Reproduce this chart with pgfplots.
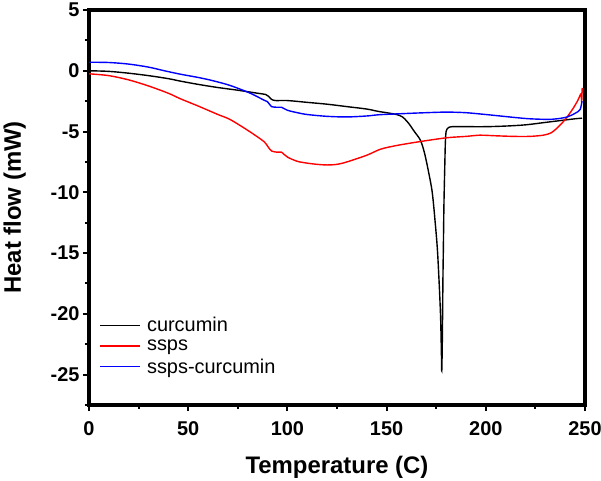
\documentclass[border=0pt]{standalone}
\usepackage{pgfplots}
\pgfplotsset{compat=1.18}
\usepackage{fontspec}
\setmainfont{Liberation Sans}
\begin{document}
\begin{tikzpicture}
\useasboundingbox (0,0) rectangle (601bp,481bp);
\begin{axis}[
  at={(89bp,76bp)}, anchor=south west,
  scale only axis, width=496bp, height=395bp,
  xmin=0, xmax=250, ymin=-27.5, ymax=5,
  xtick={0,50,...,250}, ytick={-25,-20,...,5},
  minor xtick={25,75,...,225}, minor ytick={-27.5,-22.5,...,2.5},
  tick pos=left, tick align=outside,
  major tick length=6bp, minor tick length=4bp,
  every tick/.style={line width=2bp, black},
  axis line style={line width=3.5bp},
  /pgf/number format/assume math mode=true,
  ticklabel style={font=\fontsize{20}{22}\selectfont\bfseries},
  xticklabel style={yshift=-7bp},
  xlabel={Temperature (C)}, ylabel={Heat flow (mW)},
  label style={font=\fontsize{24}{26}\selectfont\bfseries},
  xlabel style={yshift=-14bp},
  ylabel style={yshift=18bp},
  legend style={draw=none, fill=none, at={(0.015,0.232)}, anchor=north west,
    font=\fontsize{20}{22}\selectfont, row sep=2.5bp},
  legend cell align=left,
  legend image code/.code={\draw[#1,line width=1.5bp] (0bp,0bp) -- (40bp,0bp); \path (44bp,0bp);},
]
\addplot[black, line width=1.4bp, smooth] coordinates {
(0,0) (10,-0.05) (20,-0.2) (30,-0.4) (40,-0.65) (46,-0.85) (55,-1.12) (65,-1.38)
(75,-1.6) (85,-1.85) (89,-1.95) (90.5,-2.1) (92,-2.35) (94,-2.45) (100,-2.45)
(110,-2.6) (120,-2.75) (130,-2.95) (140,-3.15) (146,-3.35) (150,-3.45) (155,-3.6)
(158,-3.8) (161,-4.3) (164,-5.0) (167,-5.7) (169,-6.7) (171,-8.2) (173,-10.0)
(174.5,-12.5) (175.6,-14.7) (176.5,-17.5) (177.2,-20.2) (177.6,-23) (177.8,-24.7)
(178.1,-22) (178.4,-17) (178.6,-14.7) (178.9,-11) (179.3,-8) (179.6,-6) (180,-5)
(181,-4.7) (183,-4.6) (190,-4.6) (200,-4.6) (210,-4.55) (220,-4.45) (230,-4.25)
(240,-4.05) (245,-3.95) (248.5,-3.9)
};
\addlegendentry{curcumin}
\addplot[red, line width=1.4bp, smooth] coordinates {
(0,-0.25) (10,-0.4) (20,-0.75) (30,-1.25) (40,-1.85) (46,-2.3) (55,-2.9) (65,-3.6)
(71,-4.0) (80,-4.9) (88,-5.8) (90,-6.2) (92,-6.6) (95,-6.7) (97,-6.7) (100,-7.1)
(105,-7.45) (110,-7.6) (115,-7.7) (120,-7.75) (125,-7.7) (130,-7.5) (140,-6.95)
(147,-6.45) (155,-6.15) (164,-5.9) (172,-5.7) (181,-5.5) (190,-5.4) (197,-5.3)
(205,-5.35) (214,-5.4) (222,-5.4) (229,-5.3) (233,-5.1) (236,-4.7) (239,-4.2)
(241,-3.8) (244,-3.1) (246.5,-2.4) (248,-1.9) (248.3,-2.6) (248.6,-1.4)
};
\addlegendentry{ssps}
\addplot[blue, line width=1.4bp, smooth] coordinates {
(0,0.7) (10,0.68) (20,0.55) (30,0.3) (38,0.0) (46,-0.28) (55,-0.55) (62,-0.8)
(70,-1.15) (76,-1.5) (82,-1.9) (88,-2.4) (90,-2.55) (92,-2.95) (95,-3.0) (97,-3.0)
(100,-3.25) (105,-3.45) (110,-3.6) (120,-3.75) (130,-3.8) (140,-3.72) (146,-3.62)
(155,-3.55) (165,-3.48) (175,-3.42) (181,-3.4) (190,-3.45) (200,-3.6) (206,-3.7)
(215,-3.85) (222,-3.95) (231,-4.0) (236,-3.95) (241,-3.8) (245,-3.5) (247.5,-3.2)
(248.5,-2.5)
};
\addlegendentry{ssps-curcumin}
\end{axis}
\end{tikzpicture}
\end{document}
